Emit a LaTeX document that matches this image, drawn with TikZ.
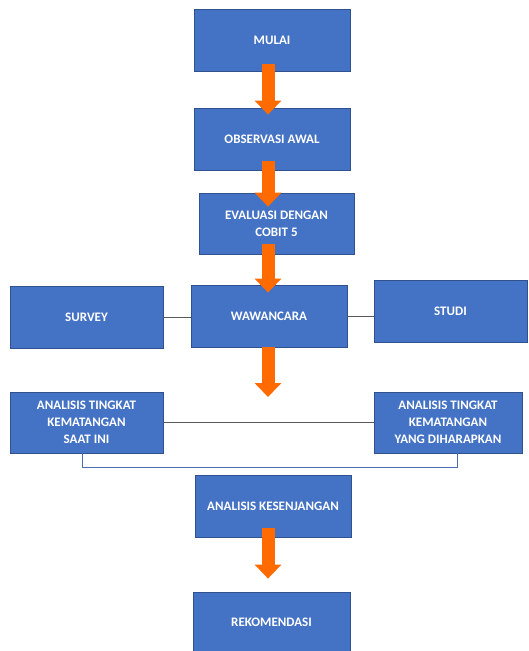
\documentclass[tikz,border=0pt]{standalone}
\usepackage{xcolor}
\usepackage{fontspec}
\setmainfont{Carlito}
\usepackage{tikz}
\usetikzlibrary{positioning, arrows.meta, calc}
\definecolor{boxBlue}{HTML}{4472C4}
\definecolor{boxEdge}{HTML}{2F528F}
\definecolor{flowOrange}{HTML}{FF6B00}
\definecolor{lineGray}{HTML}{595959}

\begin{document}
\begin{tikzpicture}[
        x=1pt, y=-1pt,
        font=\fontsize{13}{17}\selectfont\bfseries,
        box/.style={draw=boxEdge, line width=0.8pt, fill=boxBlue,
                    text=white, align=center, inner sep=2pt,
                    minimum width=156pt, minimum height=62pt},
        flow/.style={draw=flowOrange, line width=13pt,
                     -{Triangle[width=26pt, length=14pt]}, shorten <=-9pt},
        link/.style={draw=lineGray, line width=0.8pt},
        bracket/.style={draw=boxBlue!80!lineGray, line width=0.8pt},
      ]
      \useasboundingbox (0,0) rectangle (528,651);
      \node[box] (mulai) at (272,40.5) {MULAI};
      \node[box] (obs)   at (272,139)  {OBSERVASI AWAL};
      \node[box, minimum width=155pt, minimum height=61pt] (eval) at (276.5,223.5)
        {EVALUASI DENGAN\\COBIT 5};
      \node[box] (waw)    at (269,316)   {WAWANCARA};
      \node[box, minimum width=153pt] (survey) at (86.5,317) {SURVEY};
      \node[box, minimum width=153pt] (studi)  at (450.5,311) {STUDI};
      \node[box, minimum width=153pt, minimum height=61pt] (kini) at (86.5,422.5)
        {ANALISIS TINGKAT\\KEMATANGAN\\SAAT INI};
      \node[box, minimum width=148pt, minimum height=61pt] (harap) at (448,422.5)
        {ANALISIS TINGKAT\\KEMATANGAN\\YANG DIHARAPKAN};
      \node[box] (gap)   at (273,506)   {ANALISIS KESENJANGAN};
      \node[box, minimum width=157pt, minimum height=60pt] (rekom) at (271.5,622)
        {REKOMENDASI};
      \coordinate (axis) at (268,0);
      \coordinate (drop) at (268,397);
      \draw[link] (survey.east) -- (survey.east -| waw.west);
      \draw[link] (waw.east)    -- (waw.east -| studi.west);
      \draw[link] (kini.east)   -- (kini.east -| harap.west);
      \draw[bracket] ([xshift=-4.5pt]kini.south) -- ++(0,14) -| ([xshift=9pt]harap.south);
      \draw[flow, shorten <=-8pt, shorten >=-7pt]  (mulai.south -| axis) -- (obs.north -| axis);
      \draw[flow, shorten >=-14pt] (obs.south -| axis)   -- (eval.north -| axis);
      \draw[flow, shorten <=-10pt, shorten >=-8pt] (eval.south -| axis) -- (waw.north -| axis);
      \draw[flow, shorten <=0pt]   (waw.south -| axis)   -- (drop);
      \draw[flow, shorten >=13pt]  (gap.south -| axis)   -- (rekom.north -| axis);
    \end{tikzpicture}
\end{document}
